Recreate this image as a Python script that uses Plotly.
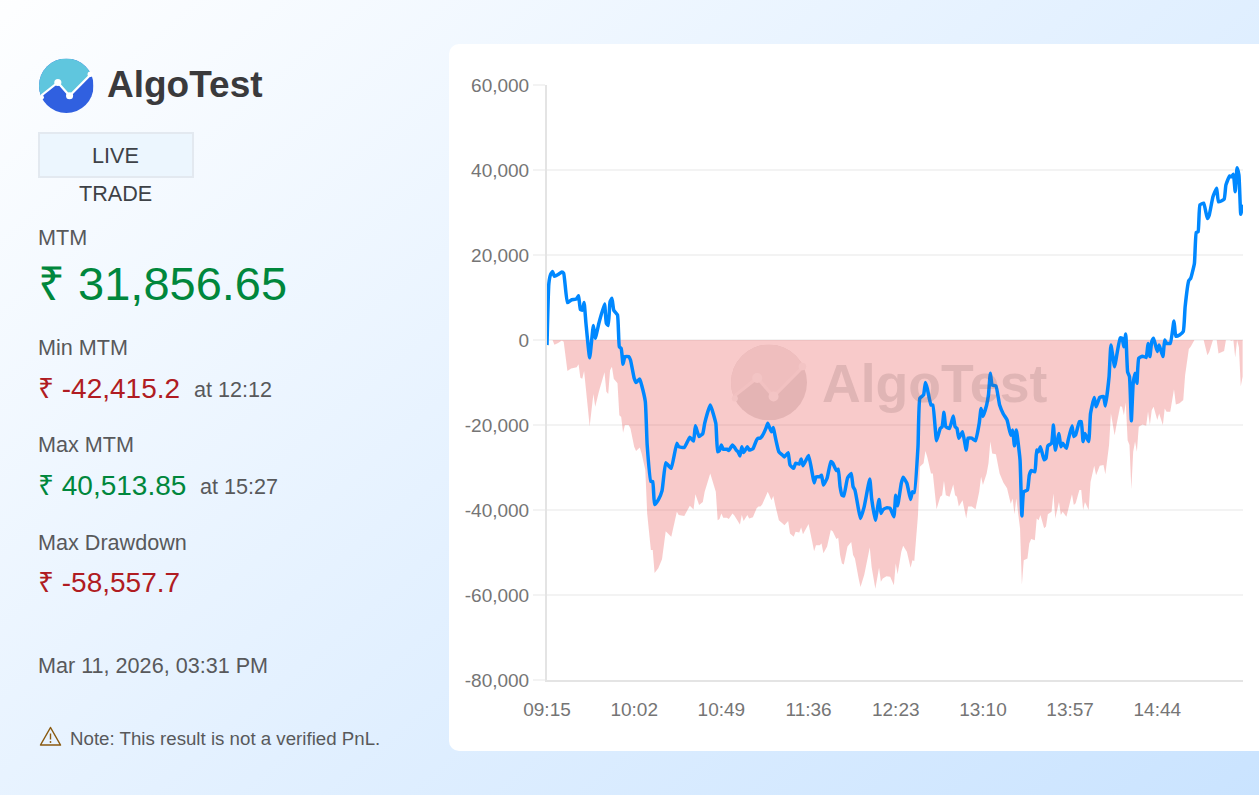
import base64
import plotly.graph_objects as go

W, H = 1259, 795

minutes = [
    0, 1, 2, 3, 4, 6, 8, 9, 11, 13,
    16, 17, 18, 19, 20, 21, 23, 25, 26, 28,
    31, 32, 33, 34, 35, 36, 38, 39, 40, 41,
    42, 44, 45, 47, 48, 50, 51, 53, 54, 56,
    57, 58, 60, 62, 64, 66, 67, 70, 71, 74,
    77, 79, 80, 82, 84, 85, 88, 91, 92, 93,
    94, 95, 97, 98, 100, 101, 102, 103, 104, 105,
    106, 108, 109, 111, 113, 114, 115, 116, 118, 119,
    121, 122, 123, 125, 127, 128, 130, 131, 133, 134,
    136, 137, 138, 141, 143, 144, 145, 147, 148, 149,
    151, 153, 154, 156, 157, 158, 159, 160, 162, 164,
    165, 166, 168, 169, 171, 174, 175, 177, 179, 180,
    181, 183, 185, 187, 188, 189, 191, 192, 194, 196,
    197, 198, 200, 201, 203, 204, 205, 207, 208, 210,
    212, 213, 214, 215, 217, 219, 220, 221, 222, 224,
    226, 227, 229, 231, 233, 234, 235, 237, 238, 239,
    240, 242, 244, 246, 248, 250, 251, 252, 253, 255,
    256, 257, 259, 260, 261, 263, 264, 265, 266, 268,
    269, 270, 272, 273, 274, 276, 277, 278, 280, 281,
    283, 284, 285, 287, 288, 289, 290, 292, 293, 295,
    296, 298, 300, 301, 303, 304, 306, 307, 309, 310,
    311, 312, 313, 314, 315, 316, 317, 318, 319, 321,
    323, 324, 325, 326, 327, 329, 330, 332, 333, 334,
    336, 338, 339, 341, 343, 344, 346, 347, 349, 350,
    351, 352, 354, 356, 357, 359, 361, 362, 365, 366,
    368, 369, 370, 371, 372, 373, 374, 375,
]

mtm = [
    -1200, 13300, 15500, 16100, 15000, 15400, 16000, 15700, 8800, 9400,
    9700, 10400, 7200, 7000, 8800, 3900, -4200, 3400, 400, 4000,
    8500, 3900, 3400, 9000, 9800, 7000, 5900, -1600, -2000, -5700,
    -3900, -3900, -4700, -9000, -10000, -9200, -10600, -14500, -24700, -33300,
    -33300, -38700, -37600, -35500, -28900, -29800, -30200, -24300, -25100, -25300,
    -22900, -23800, -20200, -22700, -22000, -19600, -15300, -19600, -26300, -26000,
    -24700, -25700, -25700, -26000, -24700, -25200, -25900, -26300, -27300, -25100,
    -26500, -25100, -25900, -25600, -23500, -23100, -23100, -22600, -20800, -19600,
    -21600, -20600, -22700, -26300, -27100, -27500, -26500, -29400, -30200, -29000,
    -29200, -28000, -29600, -27200, -31400, -33600, -32200, -32200, -31800, -34100,
    -32500, -28600, -28900, -30700, -30400, -34500, -36500, -36700, -32500, -31400,
    -34500, -35300, -40000, -42000, -39200, -32700, -37300, -42415, -37500, -40800,
    -40000, -39500, -39600, -41600, -36500, -39000, -33700, -32300, -33700, -37500,
    -35700, -35900, -25100, -13700, -12900, -10000, -11400, -15300, -15300, -23700,
    -20800, -20400, -17000, -20400, -20800, -17900, -20400, -20800, -23100, -21600,
    -25900, -23100, -23100, -23700, -19600, -16100, -18000, -15300, -12900, -7800,
    -10600, -10800, -15300, -17400, -18800, -22400, -21200, -24900, -21200, -28200,
    -41400, -35700, -35300, -31800, -30700, -31000, -25900, -26300, -25100, -28200,
    -27800, -24900, -24300, -20000, -25900, -22000, -25100, -24300, -25500, -23500,
    -20200, -22700, -22300, -19200, -19200, -23900, -22000, -23900, -17300, -13500,
    -15700, -13500, -13300, -15500, -8600, -1200, -6300, -3900, 500, 400,
    -1600, 1400, -7500, -8600, -19000, -10200, -7800, -10200, -4300, -3800,
    -4100, -800, -3900, -400, 400, -2700, -1200, -3900, 0, -800,
    -800, 4500, 900, 1200, 2000, 7800, 14000, 14500, 18000, 25300,
    25500, 31800, 32200, 28600, 29400, 33700, 35700, 32500, 33100, 36500,
    38600, 38400, 39000, 34900, 40514, 38800, 29600, 31857,
]

drawdown = [
    0, 0, 0, 0, -1100, -700, -100, -400, -7300, -6700,
    -6400, -5700, -8900, -9100, -7300, -12200, -20300, -12700, -15700, -12100,
    -7600, -12200, -12700, -7100, -6300, -9100, -10200, -17700, -18100, -21800,
    -20000, -20000, -20800, -25100, -26100, -25300, -26700, -30600, -40800, -49400,
    -49400, -54800, -53700, -51600, -45000, -45900, -46300, -40400, -41200, -41400,
    -39000, -39900, -36300, -38800, -38100, -35700, -31400, -35700, -42400, -42100,
    -40800, -41800, -41800, -42100, -40800, -41300, -42000, -42400, -43400, -41200,
    -42600, -41200, -42000, -41700, -39600, -39200, -39200, -38700, -36900, -35700,
    -37700, -36700, -38800, -42400, -43200, -43600, -42600, -45500, -46300, -45100,
    -45300, -44100, -45700, -43300, -47500, -49700, -48300, -48300, -47900, -50200,
    -48600, -44700, -45000, -46800, -46500, -50600, -52600, -52800, -48600, -47500,
    -50600, -51400, -56100, -58100, -55300, -48800, -53400, -58558, -53600, -56900,
    -56100, -55600, -55700, -57700, -52600, -55100, -49800, -48400, -49800, -53600,
    -51800, -52000, -41200, -29800, -29000, -26100, -27500, -31400, -31400, -39800,
    -36900, -36500, -33100, -36500, -36900, -34000, -36500, -36900, -39200, -37700,
    -42000, -39200, -39200, -39800, -35700, -32200, -34100, -31400, -29000, -23900,
    -26700, -26900, -31400, -33500, -34900, -38500, -37300, -41000, -37300, -44300,
    -57500, -51800, -51400, -47900, -46800, -47100, -42000, -42400, -41200, -44300,
    -43900, -41000, -40400, -36100, -42000, -38100, -41200, -40400, -41600, -39600,
    -36300, -38800, -38400, -35300, -35300, -40000, -38100, -40000, -33400, -29600,
    -31800, -29600, -29400, -31600, -24700, -17300, -22400, -20000, -15600, -15700,
    -17700, -14700, -23600, -24700, -35100, -26300, -23900, -26300, -20400, -19900,
    -20200, -16900, -20000, -16500, -15700, -18800, -17300, -20000, -16100, -16900,
    -16900, -11600, -15200, -14900, -14100, -8300, -2100, -1600, 0, 0,
    0, 0, 0, -3600, -2800, 0, 0, -3200, -2600, 0,
    0, -200, 0, -4100, 0, -1700, -10900, -8600,
]
assert len(minutes) == len(mtm) == len(drawdown)

x_tick_minutes = [0, 47, 94, 141, 188, 235, 282, 329]
x_tick_labels = ["09:15", "10:02", "10:49", "11:36", "12:23", "13:10", "13:57", "14:44"]
y_tick_values = [60000, 40000, 20000, 0, -20000, -40000, -60000, -80000]
y_tick_labels = ["60,000", "40,000", "20,000", "0", "-20,000", "-40,000", "-60,000", "-80,000"]

FONT = "Liberation Sans"
RED = "#b01c22"
GREEN = "#00873c"
GREY = "#58595b"


def uri(svg):
    return "data:image/svg+xml;base64," + base64.b64encode(svg.encode()).decode()


def paper_image(source, x, y, w, h, opacity=1):
    return dict(source=source, xref="paper", yref="paper", x=x / W, y=1 - y / H,
                sizex=w / W, sizey=h / H, xanchor="left", yanchor="top",
                sizing="stretch", layer="below", opacity=opacity)


background = f"""<svg xmlns="http://www.w3.org/2000/svg" width="{W}" height="{H}" viewBox="0 0 {W} {H}">
<defs><linearGradient id="g" gradientUnits="userSpaceOnUse" x1="150" y1="-180" x2="1110" y2="950">
<stop offset="0" stop-color="#ffffff"/><stop offset="1" stop-color="#c9e3ff"/></linearGradient></defs>
<rect width="{W}" height="{H}" fill="url(#g)"/>
<rect x="449" y="44" width="840" height="707" rx="10" ry="10" fill="#ffffff"/></svg>"""


def logo(top, bottom, stroke, node):
    return f"""<svg xmlns="http://www.w3.org/2000/svg" width="200" height="200" viewBox="0 0 100 100">
<defs><clipPath id="c"><circle cx="50" cy="50" r="50"/></clipPath></defs>
<g clip-path="url(#c)"><rect width="100" height="100" fill="{bottom}"/>
<path d="M-6,76 L34.5,44 L56,68.5 L100,24 L100,-5 L-6,-5 Z" fill="{top}"/>
<path d="M-6,76 L34.5,44 L56,68.5 L100,24" fill="none" stroke="{stroke}" stroke-width="4"/>
</g><circle cx="34.5" cy="44" r="6.5" fill="{node}"/><circle cx="56" cy="68.5" r="6.5" fill="{node}"/>
<circle cx="94" cy="29" r="5" fill="{node}"/><circle cx="5" cy="71" r="4" fill="{node}"/></svg>"""


warning = """<svg xmlns="http://www.w3.org/2000/svg" width="46" height="42" viewBox="0 0 23 21">
<path d="M11.5,1.5 L21.5,19 L1.5,19 Z" fill="none" stroke="#8a5a10" stroke-width="1.5" stroke-linejoin="round"/>
<path d="M11.5,7.5 L11.5,13.5" stroke="#8a5a10" stroke-width="1.4"/><circle cx="11.5" cy="16" r="0.9" fill="#8a5a10"/></svg>"""

images = [
    paper_image(uri(background), 0, 0, W, H),
    paper_image(uri(logo("#5fc6de", "#3060e0", "#ffffff", "#ffffff")), 39, 58.4, 54.6, 54.6),
    paper_image(uri(logo("#f3eeee", "#e3e0e0", "#f6f3f3", "#f8f7f7")), 731, 344.5, 76, 76),
    paper_image(uri(warning), 39, 726, 23, 21),
]


def label(x, y, text, size, color, anchor="left", bold=False):
    shown = f"<b>{text}</b>" if bold else text
    return dict(x=x / W, y=1 - y / H, xref="paper", yref="paper", text=shown, showarrow=False,
                xanchor=anchor, yanchor="middle", borderpad=0,
                font=dict(family=FONT, size=size, color=color))


annotations = [
    label(106, 85, "AlgoTest", 37, "#3a3a3c", bold=True),
    label(115.5, 156, "LIVE", 21.6, "#3e4247", "center"),
    label(115.5, 194, "TRADE", 21.6, "#3e4247", "center"),
    label(37, 238, "MTM", 21.6, GREY),
    label(37, 284, "₹ 31,856.65", 47, GREEN),
    label(37, 347.5, "Min MTM", 21.6, GREY),
    label(37, 388, "₹ -42,415.2", 28, RED),
    label(193, 389.5, "at 12:12", 21.6, GREY),
    label(37, 444.5, "Max MTM", 21.6, GREY),
    label(37, 485.5, "₹ 40,513.85", 28, GREEN),
    label(199, 486.5, "at 15:27", 21.6, GREY),
    label(37, 542.5, "Max Drawdown", 21.6, GREY),
    label(37, 582.5, "₹ -58,557.7", 28, RED),
    label(37, 665.5, "Mar 11, 2026, 03:31 PM", 21.6, GREY),
    label(69, 738, "Note: This result is not a verified PnL.", 18.7, GREY),
    label(821, 383, "AlgoTest", 53.6, "rgba(108,75,75,0.17)", bold=True),
]

shapes = [
    dict(type="rect", xref="paper", yref="paper", layer="below",
         x0=39 / W, x1=193 / W, y0=1 - 133 / H, y1=1 - 177 / H,
         fillcolor="#ecf6fe", line=dict(color="#e3e9f0", width=2)),
]

fig = go.Figure()
fig.add_trace(go.Scatter(
    x=minutes, y=drawdown, mode="lines", fill="tozeroy",
    line=dict(width=0, color="rgba(232,78,78,0)"),
    fillcolor="rgba(232,78,78,0.3)", hoverinfo="skip", showlegend=False,
))
fig.add_trace(go.Scatter(
    x=minutes, y=mtm, mode="lines",
    line=dict(color="#0088ff", width=3.5, shape="spline", smoothing=0.4),
    showlegend=False,
))

axis_common = dict(showline=True, linecolor="#e4e4e4", linewidth=2, gridcolor="#f3f3f3", gridwidth=2,
                   ticks="outside", zeroline=False, tickwidth=2, automargin=False,
                   tickfont=dict(family=FONT, size=19, color="#757575"))

fig.update_layout(
    template=None,
    width=W, height=H, margin=dict(l=0, r=0, t=0, b=0, pad=0, autoexpand=False),
    paper_bgcolor="#ffffff", plot_bgcolor="rgba(0,0,0,0)",
    showlegend=False, images=images, annotations=annotations, shapes=shapes,
    xaxis=dict(domain=[547 / W, 1243 / W], range=[0, 375.2], tickmode="array",
               tickvals=x_tick_minutes, ticktext=x_tick_labels, showgrid=False,
               ticklen=11, tickcolor="rgba(0,0,0,0)", **axis_common),
    yaxis=dict(domain=[1 - 680 / H, 1 - 85 / H], range=[-80000, 60000], tickmode="array",
               tickvals=y_tick_values, ticktext=y_tick_labels, showgrid=True,
               ticklen=12, tickcolor="#f3f3f3", **axis_common),
)

fig.write_html("out.html", config=dict(displayModeBar=False),
               post_script="document.body.style.margin='0';document.body.style.overflow='hidden';")
